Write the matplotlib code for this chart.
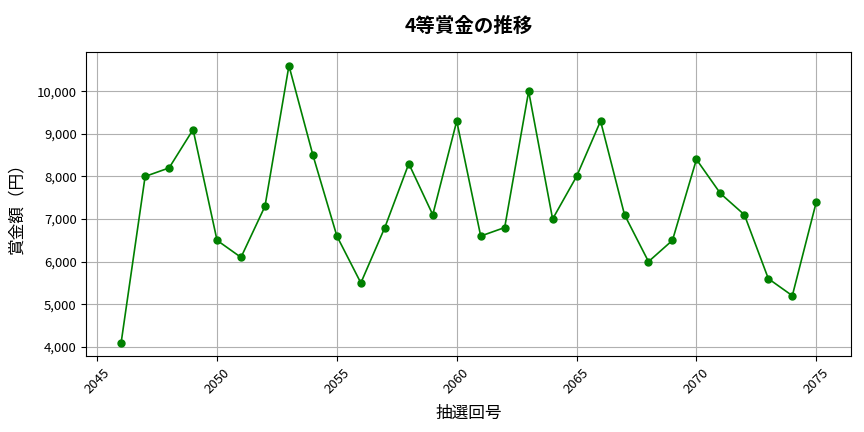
import numpy as np
import matplotlib.pyplot as plt
from matplotlib.ticker import FuncFormatter

plt.rcParams['font.family'] = ['Noto Sans CJK JP', 'DejaVu Sans']

draws = list(range(2046, 2076))
prizes = [4100, 8000, 8200, 9100, 6500, 6100, 7300, 10600, 8500, 6600,
          5500, 6800, 8300, 7100, 9300, 6600, 6800, 10000, 7000, 8000,
          9300, 7100, 6000, 6500, 8400, 7600, 7100, 5600, 5200, 7400]

fig, ax = plt.subplots(figsize=(8.64, 4.32), dpi=100)
ax.plot(draws, prizes, marker='o', color='green', markersize=5, linewidth=1.2)
ax.set_title('4等賞金の推移', fontsize=14, fontweight='bold', pad=14)
ax.set_xlabel('抽選回号', fontsize=12, labelpad=6)
ax.set_ylabel('賞金額（円）', fontsize=12, labelpad=8)
ax.yaxis.set_major_formatter(FuncFormatter(lambda v, p: f'{int(v):,}'))
ax.set_xticks(range(2045, 2076, 5))
plt.setp(ax.get_xticklabels(), rotation=45)
ax.tick_params(labelsize=9.5)
ax.grid(True, color='#b0b0b0')
fig.subplots_adjust(left=0.1, right=0.985, top=0.88, bottom=0.175)
fig.savefig('out.png')
